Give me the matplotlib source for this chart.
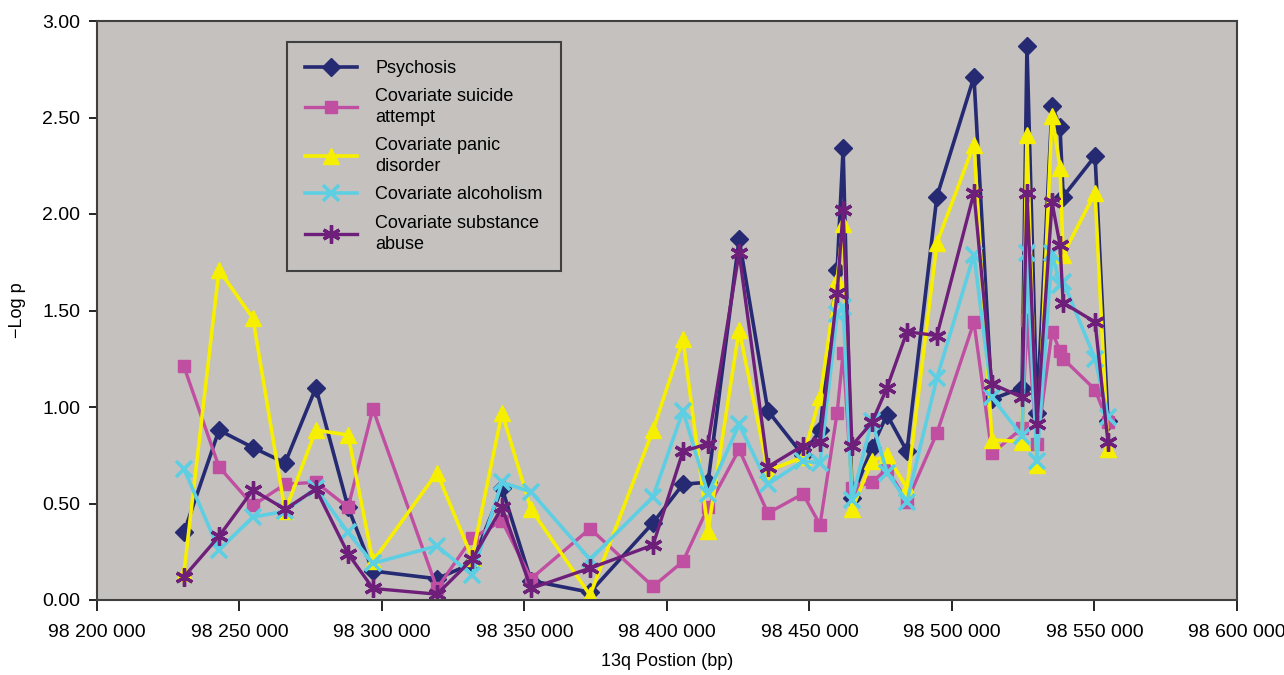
import matplotlib
matplotlib.use("Agg")
import matplotlib.pyplot as plt
from matplotlib.ticker import FuncFormatter
import numpy as np

plt.rcParams['font.family'] = ['Liberation Sans', 'DejaVu Sans']

# SNP positions on 13q (bp)
position = [98230500, 98242800, 98254700, 98266000, 98276800, 98288100, 98296800,
            98319300, 98331600, 98342100, 98352300, 98373000, 98395100, 98405600,
            98414400, 98425300, 98435400, 98447700, 98453700, 98459700, 98461800,
            98464900, 98471900, 98477200, 98484200, 98494700, 98507700, 98514000,
            98524600, 98526300, 98529800, 98535100, 98537900, 98539000, 98550200,
            98554700]

psychosis = [0.35, 0.88, 0.79, 0.71, 1.10, 0.48, 0.15, 0.11, 0.19, 0.58, 0.10, 0.04,
             0.40, 0.60, 0.61, 1.87, 0.98, 0.75, 0.88, 1.71, 2.34, 0.53, 0.79, 0.96,
             0.77, 2.09, 2.71, 1.04, 1.10, 2.87, 0.97, 2.56, 2.45, 2.09, 2.30, 0.93]
suicide = [1.21, 0.69, 0.49, 0.60, 0.61, 0.48, 0.99, 0.06, 0.32, 0.41, 0.11, 0.37,
           0.07, 0.20, 0.48, 0.78, 0.45, 0.55, 0.39, 0.97, 1.28, 0.58, 0.61, 0.68,
           0.51, 0.865, 1.44, 0.76, 0.89, 1.45, 0.81, 1.39, 1.29, 1.25, 1.09, 0.92]
panic = [0.14, 1.71, 1.46, 0.46, 0.88, 0.855, 0.20, 0.66, 0.22, 0.97, 0.47, 0.025,
         0.88, 1.35, 0.36, 1.40, 0.67, 0.74, 1.05, 1.66, 1.95, 0.47, 0.72, 0.75,
         0.58, 1.85, 2.36, 0.83, 0.82, 2.41, 0.70, 2.51, 2.24, 1.79, 2.11, 0.78]
alcoholism = [0.68, 0.26, 0.43, 0.46, 0.58, 0.35, 0.19, 0.28, 0.13, 0.61, 0.56, 0.21,
              0.535, 0.98, 0.55, 0.91, 0.60, 0.72, 0.71, 1.48, 1.52, 0.52, 0.93, 0.66,
              0.51, 1.15, 1.79, 1.05, 0.85, 1.80, 0.72, 1.80, 1.63, 1.65, 1.25, 0.95]
substance = [0.12, 0.33, 0.57, 0.47, 0.575, 0.24, 0.06, 0.03, 0.21, 0.48, 0.06, 0.165,
             0.285, 0.77, 0.81, 1.80, 0.69, 0.80, 0.82, 1.59, 2.02, 0.80, 0.92, 1.10,
             1.39, 1.37, 2.11, 1.12, 1.05, 2.11, 0.91, 2.06, 1.84, 1.54, 1.44, 0.82]

labels = ["Psychosis", "Covariate suicide\nattempt", "Covariate panic\ndisorder",
          "Covariate alcoholism", "Covariate substance\nabuse"]

fig = plt.figure(figsize=(12.84, 6.75), dpi=100)
ax = fig.add_axes([97/1284, 1-600/675, 1140/1284, 579/675])
ax.set_facecolor('#c4c1bf')

ax.plot(position, psychosis, color='#252a72', lw=2.6, marker='D', ms=9, label=labels[0])
ax.plot(position, suicide, color='#c04fa2', lw=2.4, marker='s', ms=9, label=labels[1])
ax.plot(position, panic, color='#f7ef00', lw=2.6, marker='^', ms=11, label=labels[2])
ax.plot(position, alcoholism, color='#5ecfe2', lw=2.6, marker='x', ms=11, mew=2.6,
        label=labels[3])
ax.plot(position, substance, color='#6e1f7a', lw=2.4, marker=(6, 2, 0), ms=13, mew=2.4,
        label=labels[4])

ax.set_xlim(98200000, 98600000)
ax.set_ylim(0, 3)
ax.set_xticks(np.arange(98200000, 98600001, 50000))
ax.set_yticks(np.arange(0, 3.01, 0.5))
ax.xaxis.set_major_formatter(FuncFormatter(
    lambda v, p: f"{int(v):,}".replace(",", " ")))
ax.yaxis.set_major_formatter(FuncFormatter(lambda v, p: f"{v:.2f}"))
ax.tick_params(axis='x', direction='out', length=8, width=1.2, pad=9, labelsize=14)
ax.tick_params(axis='y', direction='out', length=6, width=1.2, pad=6, labelsize=14)
for s in ax.spines.values():
    s.set_color('#404040')
    s.set_linewidth(1.5)

ax.set_xlabel("13q Postion (bp)", fontsize=13, labelpad=9)
ax.set_ylabel("\u2212Log p", fontsize=13, labelpad=12)

leg = ax.legend(loc='upper left', bbox_to_anchor=((287-97)/1140, (600-42)/579),
                borderaxespad=0, fontsize=13, frameon=True, fancybox=False,
                facecolor='#c4c1bf', edgecolor='#404040', handlelength=2.9,
                borderpad=1.0, labelspacing=0.62, handletextpad=1.0, framealpha=1)
leg.get_frame().set_linewidth(1.5)
for t in leg.get_texts():
    t.set_linespacing(1.3)

fig.savefig("out.png", dpi=100, facecolor='white')
